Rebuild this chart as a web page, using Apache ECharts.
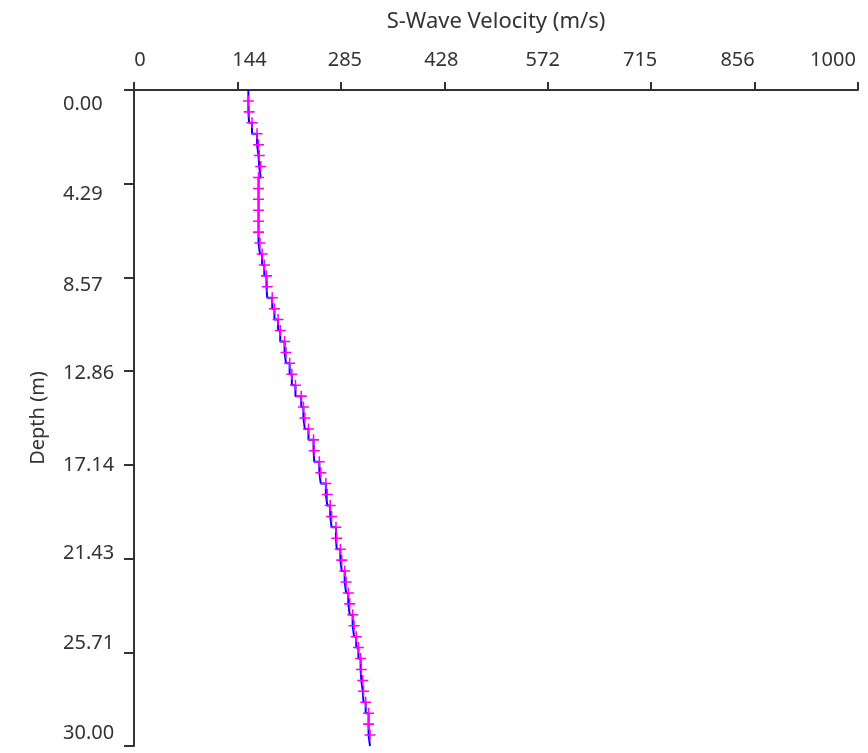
<!DOCTYPE html>
<html>
<head>
<meta charset="utf-8">
<script src="https://cdn.jsdelivr.net/npm/echarts@6/dist/echarts.min.js"></script>
<style>
html,body{margin:0;padding:0;background:#fff;}
#chart{width:868px;height:753px;}
</style>
</head>
<body>
<div id="chart"></div>
<script>
// Depth (m) of each sample
var depths = [0, 0.5, 1.0, 1.5, 2.0, 2.5, 3.0, 3.5, 4.0, 4.5, 5.0, 5.5, 6.0, 6.5, 7.0, 7.5,
  8.0, 8.5, 9.0, 9.5, 10.0, 10.5, 11.0, 11.5, 12.0, 12.5, 13.0, 13.5, 14.0, 14.5, 15.0,
  15.5, 16.0, 16.5, 17.0, 17.5, 18.0, 18.5, 19.0, 19.5, 20.0, 20.5, 21.0, 21.5, 22.0,
  22.5, 23.0, 23.5, 24.0, 24.5, 25.0, 25.5, 26.0, 26.5, 27.0, 27.5, 28.0, 28.5, 29.0,
  29.5, 30.0];
// S-wave velocity (m/s) at each depth
var velocities = [158, 158, 159, 163, 170, 172, 173, 175, 172, 172, 172, 172, 172, 172, 174, 177,
  180, 183, 184, 191, 194, 199, 202, 208, 210, 215, 218, 223, 231, 234, 236,
  241, 248, 249, 256, 258, 265, 267, 271, 273, 279, 280, 285, 287, 291,
  293, 296, 298, 302, 304, 307, 310, 313, 314, 316, 317, 320, 324, 324,
  326, 326];
var xTickLabels = ['0', '144', '285', '428', '572', '715', '856', '1000'];
var yTickLabels = ['0.00', '4.29', '8.57', '12.86', '17.14', '21.43', '25.71', '30.00'];

var xMax = 1000, yMax = 30, nTicks = xTickLabels.length - 1;
var xInt = xMax / nTicks, yInt = yMax / nTicks;

// layout: label offsets from their ticks (px), as laid out in the reference
var xLabelShift = [6, 12, 4, -3, -5, -11, -17, -25];
var yLabelShift = [14, 11, 8, 2.5, 0, -5, -8.5, -12.5];

var FONT = 'Noto Sans';
var baseText = { fontFamily: FONT, fontSize: 20, color: '#333' };
function mk(extra) { var o = {}; for (var k in baseText) o[k] = baseText[k]; for (var k2 in extra) o[k2] = extra[k2]; return o; }
var xRich = {}, yRich = {};
xLabelShift.forEach(function (s, i) {
  xRich['x' + i] = mk({ padding: s >= 0 ? [0, 0, 0, 2 * s] : [0, -2 * s, 0, 0] });
});
yLabelShift.forEach(function (s, i) {
  yRich['y' + i] = mk({ padding: s >= 0 ? [2 * s, 0, 0, 0] : [0, 0, -2 * s, 0] });
});

var seriesData = depths.map(function (d, i) {
  var item = { value: [velocities[i], d] };
  if (i === 0 || i === depths.length - 1) item.symbol = 'none';
  return item;
});

var chart = echarts.init(document.getElementById('chart'));
chart.setOption({
  backgroundColor: '#fff',
  animation: false,
  grid: { left: 134, right: 10, top: 90, bottom: 7, containLabel: false, outerBoundsMode: 'none' },
  xAxis: {
    type: 'value', position: 'top', min: 0, max: xMax, interval: xInt,
    name: 'S-Wave Velocity (m/s)', nameLocation: 'middle', nameGap: 57,
    nameTextStyle: { fontFamily: FONT, fontSize: 22, color: '#333' },
    axisLine: { show: true, lineStyle: { color: '#333', width: 2 } },
    axisTick: { show: true, length: 8, lineStyle: { color: '#333', width: 2 } },
    axisLabel: {
      margin: 20, fontFamily: FONT, fontSize: 20, color: '#333', rich: xRich,
      formatter: function (v) { var i = Math.round(v / xInt); return '{x' + i + '|' + xTickLabels[i] + '}'; }
    },
    splitLine: { show: false }
  },
  yAxis: {
    type: 'value', inverse: true, min: 0, max: yMax, interval: yInt,
    name: 'Depth (m)', nameLocation: 'middle', nameGap: 86,
    nameTextStyle: { fontFamily: FONT, fontSize: 20, color: '#333' },
    axisLine: { show: true, lineStyle: { color: '#333', width: 2 } },
    axisTick: { show: true, length: 10, lineStyle: { color: '#333', width: 2 } },
    axisLabel: {
      margin: 71, align: 'left', fontFamily: FONT, fontSize: 20, color: '#333', rich: yRich,
      formatter: function (v) { var i = Math.round(v / yInt); return '{y' + i + '|' + yTickLabels[i] + '}'; }
    },
    splitLine: { show: false }
  },
  series: [{
    type: 'line',
    step: 'start',
    data: seriesData,
    lineStyle: { color: '#0000ff', width: 2 },
    symbol: 'path://M4.3,0h1.4v4.3h4.3v1.4h-4.3v4.3h-1.4v-4.3h-4.3v-1.4h4.3z',
    symbolSize: 11,
    itemStyle: { color: '#ff00ff' },
    clip: false,
    z: 3
  }]
});
</script>
</body>
</html>
